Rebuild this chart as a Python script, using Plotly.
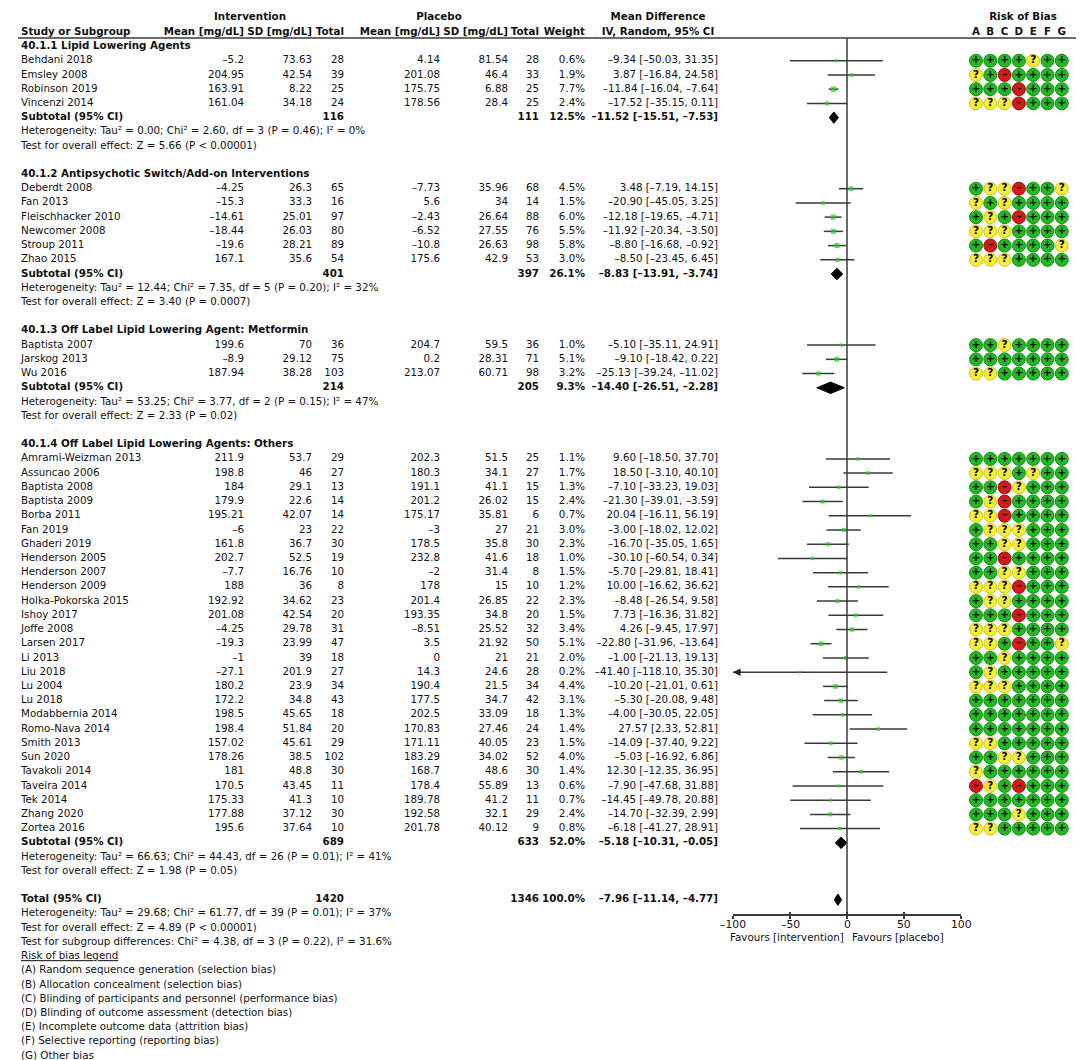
import plotly.graph_objects as go

# ---------------- data ----------------
group_titles = [
    "40.1.1 Lipid Lowering Agents",
    "40.1.2 Antipsychotic Switch/Add-on Interventions",
    "40.1.3 Off Label Lipid Lowering Agent: Metformin",
    "40.1.4 Off Label Lipid Lowering Agents: Others",
]
group_sizes = [4, 6, 3, 27]

studies = [
    "Behdani 2018", "Emsley 2008", "Robinson 2019", "Vincenzi 2014",
    "Deberdt 2008", "Fan 2013", "Fleischhacker 2010", "Newcomer 2008", "Stroup 2011", "Zhao 2015",
    "Baptista 2007", "Jarskog 2013", "Wu 2016",
    "Amrami-Weizman 2013", "Assuncao 2006", "Baptista 2008", "Baptista 2009", "Borba 2011",
    "Fan 2019", "Ghaderi 2019", "Henderson 2005", "Henderson 2007", "Henderson 2009",
    "Holka-Pokorska 2015", "Ishoy 2017", "Joffe 2008", "Larsen 2017", "Li 2013", "Liu 2018",
    "Lu 2004", "Lu 2018", "Modabbernia 2014", "Romo-Nava 2014", "Smith 2013", "Sun 2020",
    "Tavakoli 2014", "Taveira 2014", "Tek 2014", "Zhang 2020", "Zortea 2016",
]
int_mean = [-5.2, 204.95, 163.91, 161.04,
            -4.25, -15.3, -14.61, -18.44, -19.6, 167.1,
            199.6, -8.9, 187.94,
            211.9, 198.8, 184, 179.9, 195.21, -6, 161.8, 202.7, -7.7, 188,
            192.92, 201.08, -4.25, -19.3, -1, -27.1, 180.2, 172.2, 198.5, 198.4,
            157.02, 178.26, 181, 170.5, 175.33, 177.88, 195.6]
int_sd = [73.63, 42.54, 8.22, 34.18,
          26.3, 33.3, 25.01, 26.03, 28.21, 35.6,
          70, 29.12, 38.28,
          53.7, 46, 29.1, 22.6, 42.07, 23, 36.7, 52.5, 16.76, 36,
          34.62, 42.54, 29.78, 23.99, 39, 201.9, 23.9, 34.8, 45.65, 51.84,
          45.61, 38.5, 48.8, 43.45, 41.3, 37.12, 37.64]
int_n = [28, 39, 25, 24,
         65, 16, 97, 80, 89, 54,
         36, 75, 103,
         29, 27, 13, 14, 14, 22, 30, 19, 10, 8,
         23, 20, 31, 47, 18, 27, 34, 43, 18, 20,
         29, 102, 30, 11, 10, 30, 10]
pla_mean = [4.14, 201.08, 175.75, 178.56,
            -7.73, 5.6, -2.43, -6.52, -10.8, 175.6,
            204.7, 0.2, 213.07,
            202.3, 180.3, 191.1, 201.2, 175.17, -3, 178.5, 232.8, -2, 178,
            201.4, 193.35, -8.51, 3.5, 0, 14.3, 190.4, 177.5, 202.5, 170.83,
            171.11, 183.29, 168.7, 178.4, 189.78, 192.58, 201.78]
pla_sd = [81.54, 46.4, 6.88, 28.4,
          35.96, 34, 26.64, 27.55, 26.63, 42.9,
          59.5, 28.31, 60.71,
          51.5, 34.1, 41.1, 26.02, 35.81, 27, 35.8, 41.6, 31.4, 15,
          26.85, 34.8, 25.52, 21.92, 21, 24.6, 21.5, 34.7, 33.09, 27.46,
          40.05, 34.02, 48.6, 55.89, 41.2, 32.1, 40.12]
pla_n = [28, 33, 25, 25,
         68, 14, 88, 76, 98, 53,
         36, 71, 98,
         25, 27, 15, 15, 6, 21, 30, 18, 8, 10,
         22, 20, 32, 50, 21, 28, 34, 42, 18, 24,
         23, 52, 30, 13, 11, 29, 9]
weight = [0.6, 1.9, 7.7, 2.4,
          4.5, 1.5, 6.0, 5.5, 5.8, 3.0,
          1.0, 5.1, 3.2,
          1.1, 1.7, 1.3, 2.4, 0.7, 3.0, 2.3, 1.0, 1.5, 1.2,
          2.3, 1.5, 3.4, 5.1, 2.0, 0.2, 4.4, 3.1, 1.3, 1.4,
          1.5, 4.0, 1.4, 0.6, 0.7, 2.4, 0.8]
md = [-9.34, 3.87, -11.84, -17.52,
      3.48, -20.90, -12.18, -11.92, -8.80, -8.50,
      -5.10, -9.10, -25.13,
      9.60, 18.50, -7.10, -21.30, 20.04, -3.00, -16.70, -30.10, -5.70, 10.00,
      -8.48, 7.73, 4.26, -22.80, -1.00, -41.40, -10.20, -5.30, -4.00, 27.57,
      -14.09, -5.03, 12.30, -7.90, -14.45, -14.70, -6.18]
md_lo = [-50.03, -16.84, -16.04, -35.15,
         -7.19, -45.05, -19.65, -20.34, -16.68, -23.45,
         -35.11, -18.42, -39.24,
         -18.50, -3.10, -33.23, -39.01, -16.11, -18.02, -35.05, -60.54, -29.81, -16.62,
         -26.54, -16.36, -9.45, -31.96, -21.13, -118.10, -21.01, -20.08, -30.05, 2.33,
         -37.40, -16.92, -12.35, -47.68, -49.78, -32.39, -41.27]
md_hi = [31.35, 24.58, -7.64, 0.11,
         14.15, 3.25, -4.71, -3.50, -0.92, 6.45,
         24.91, 0.22, -11.02,
         37.70, 40.10, 19.03, -3.59, 56.19, 12.02, 1.65, 0.34, 18.41, 36.62,
         9.58, 31.82, 17.97, -13.64, 19.13, 35.30, 0.61, 9.48, 22.05, 52.81,
         9.22, 6.86, 36.95, 31.88, 20.88, 2.99, 28.91]
# risk of bias per study, domains A..G: + low, ? unclear, - high
rob = ["++++?++", "?+-++++", "+++-+++", "???-+++",
       "+??-++?", "?+?++++", "+?+-+++", "???++++", "+-++++?", "???++++",
       "++?++++", "+++++++", "??+++++",
       "+++++++", "???+?++", "++-?+++", "+?-++++", "??-++++", "+???+++", "++??+++",
       "++-++++", "++??+++", "???-+++", "+??++++", "+++-+++", "???++++", "??+-++?",
       "++?++++", "+?+++++", "???++++", "+++++++", "+++++++", "+++++++", "??+++++",
       "++??+++", "?++++++", "-?+-+++", "+++++++", "+++?+++", "??+++++"]

sub_int_n = [116, 401, 214, 689]
sub_pla_n = [111, 397, 205, 633]
sub_weight = [12.5, 26.1, 9.3, 52.0]
sub_md = [-11.52, -8.83, -14.40, -5.18]
sub_lo = [-15.51, -13.91, -26.51, -10.31]
sub_hi = [-7.53, -3.74, -2.28, -0.05]
sub_het = [
    "Heterogeneity: Tau² = 0.00; Chi² = 2.60, df = 3 (P = 0.46); I² = 0%",
    "Heterogeneity: Tau² = 12.44; Chi² = 7.35, df = 5 (P = 0.20); I² = 32%",
    "Heterogeneity: Tau² = 53.25; Chi² = 3.77, df = 2 (P = 0.15); I² = 47%",
    "Heterogeneity: Tau² = 66.63; Chi² = 44.43, df = 26 (P = 0.01); I² = 41%",
]
sub_test = [
    "Test for overall effect: Z = 5.66 (P < 0.00001)",
    "Test for overall effect: Z = 3.40 (P = 0.0007)",
    "Test for overall effect: Z = 2.33 (P = 0.02)",
    "Test for overall effect: Z = 1.98 (P = 0.05)",
]
total_int_n, total_pla_n, total_weight = 1420, 1346, 100.0
total_md, total_lo, total_hi = -7.96, -11.14, -4.77
total_notes = [
    "Heterogeneity: Tau² = 29.68; Chi² = 61.77, df = 39 (P = 0.01); I² = 37%",
    "Test for overall effect: Z = 4.89 (P < 0.00001)",
    "Test for subgroup differences: Chi² = 4.38, df = 3 (P = 0.22), I² = 31.6%",
]
legend_items = [
    "(A) Random sequence generation (selection bias)",
    "(B) Allocation concealment (selection bias)",
    "(C) Blinding of participants and personnel (performance bias)",
    "(D) Blinding of outcome assessment (detection bias)",
    "(E) Incomplete outcome data (attrition bias)",
    "(F) Selective reporting (reporting bias)",
    "(G) Other bias",
]
rob_domains = ["A", "B", "C", "D", "E", "F", "G"]
ticks = [-100, -50, 0, 50, 100]

# ---------------- layout constants (pixels) ----------------
W, H = 1084, 1060
ROW0, ROW_H = 38.5, 14.22           # pixel centre of row 0, row pitch
HEAD1, HEAD2 = -2.07, -1.02         # header rows (in row units)
FONT, FS, INK = "DejaVu Sans", 10.3, "#111111"
X_LABEL = 13
X_IM, X_IS, X_IN = 236, 304, 336
X_PM, X_PS, X_PN = 432, 500, 531
X_W, X_CI = 577, 710
C_INT, C_PLA, C_MDT, C_FOREST, C_ROB = 242, 431, 650, 839, 1015
ZERO_PX, PX_PER_UNIT = 839, 1.14
AXIS_PX, HEAD_LINE_PX, TICKLAB_PX, FAV_PX = 907, 30, 916.5, 929
ROB_X0, ROB_DX = 968, 14.3
ROB_STYLE = {"+": ("#22b922", "#148c14"), "?": ("#f6ee3a", "#cfc420"), "-": ("#d11a1a", "#961010")}
ROB_GLYPH = {"+": "+", "?": "?", "-": "–"}


def num(v, spec="g"):
    return format(v, spec).replace("-", "–")


def ci(m, lo, hi):
    return f"{num(m, '.2f')} [{num(lo, '.2f')}, {num(hi, '.2f')}]"


def b(s):
    return f"<b>{s}</b>"


texts = {}


def put(x, y, s, pos="middle left"):
    col = texts.setdefault((x, pos), ([], []))
    col[0].append(y)
    col[1].append(s)


# headers
put(C_INT, HEAD1, b("Intervention"), "middle center")
put(C_PLA, HEAD1, b("Placebo"), "middle center")
put(C_MDT, HEAD1, b("Mean Difference"), "middle center")
put(C_FOREST, HEAD1, b("Mean Difference"), "middle center")
put(C_ROB, HEAD1, b("Risk of Bias"), "middle center")
put(X_LABEL, HEAD2, b("Study or Subgroup"), "middle right")
for x, s in [(X_IM, "Mean [mg/dL]"), (X_IS, "SD [mg/dL]"), (X_IN, "Total"),
             (X_PM, "Mean [mg/dL]"), (X_PS, "SD [mg/dL]"), (X_PN, "Total"), (X_W, "Weight")]:
    put(x, HEAD2, b(s))
put(C_MDT, HEAD2, b("IV, Random, 95% CI"), "middle center")
put(C_FOREST, HEAD2, b("IV, Random, 95% CI"), "middle center")
for j, d in enumerate(rob_domains):
    put(ROB_X0 + j * ROB_DX, HEAD2, b(d), "middle center")

# body rows
study_rows, sub_rows = [], []
r, k = 0, 0
for g, n in enumerate(group_sizes):
    put(X_LABEL, r, b(group_titles[g]), "middle right")
    for i in range(k, k + n):
        y = r + 1 + (i - k)
        study_rows.append(y)
        put(X_LABEL, y, studies[i], "middle right")
        put(X_IM, y, num(int_mean[i]))
        put(X_IS, y, num(int_sd[i]))
        put(X_IN, y, str(int_n[i]))
        put(X_PM, y, num(pla_mean[i]))
        put(X_PS, y, num(pla_sd[i]))
        put(X_PN, y, str(pla_n[i]))
        put(X_W, y, f"{weight[i]:.1f}%")
        put(X_CI, y, ci(md[i], md_lo[i], md_hi[i]))
    ys = r + n + 1
    sub_rows.append(ys)
    put(X_LABEL, ys, b("Subtotal (95% CI)"), "middle right")
    put(X_IN, ys, b(sub_int_n[g]))
    put(X_PN, ys, b(sub_pla_n[g]))
    put(X_W, ys, b(f"{sub_weight[g]:.1f}%"))
    put(X_CI, ys, b(ci(sub_md[g], sub_lo[g], sub_hi[g])))
    put(X_LABEL, ys + 1, sub_het[g], "middle right")
    put(X_LABEL, ys + 2, sub_test[g], "middle right")
    k += n
    r += n + 5

total_row = r
put(X_LABEL, total_row, b("Total (95% CI)"), "middle right")
put(X_IN, total_row, b(total_int_n))
put(X_PN, total_row, b(total_pla_n))
put(X_W, total_row, b(f"{total_weight:.1f}%"))
put(X_CI, total_row, b(ci(total_md, total_lo, total_hi)))
for j, s in enumerate(total_notes):
    put(X_LABEL, total_row + 1 + j, s, "middle right")
leg_row = total_row + 1 + len(total_notes)
put(X_LABEL, leg_row, "<span style='text-decoration:underline'>Risk of bias legend</span>", "middle right")
for j, s in enumerate(legend_items):
    put(X_LABEL, leg_row + 1 + j, s, "middle right")

fig = go.Figure()
for (x, pos), (ys, ss) in texts.items():
    fig.add_trace(go.Scatter(
        x=[x] * len(ys), y=ys, text=ss, mode="text", textposition=pos,
        textfont=dict(family=FONT, size=FS, color=INK),
        hoverinfo="skip", showlegend=False, cliponaxis=False))

# confidence intervals
lx, ly = [], []
for i, y in enumerate(study_rows):
    lx += [md_lo[i], md_hi[i], None]
    ly += [y, y, None]
fig.add_trace(go.Scatter(x=lx, y=ly, mode="lines", line=dict(color="#3a3a3a", width=1.5),
                         xaxis="x2", yaxis="y", hoverinfo="skip", showlegend=False))
# study squares sized by weight
fig.add_trace(go.Scatter(
    x=md, y=study_rows, mode="markers", xaxis="x2", yaxis="y",
    marker=dict(symbol="square", size=[2.2 + 1.2 * w ** 0.5 for w in weight], color="#1fd01f", line=dict(width=0)),
    hoverinfo="skip", showlegend=False))
# pooled diamonds
half = 0.4
for m, lo, hi, y in list(zip(sub_md, sub_lo, sub_hi, sub_rows)) + [(total_md, total_lo, total_hi, total_row)]:
    fig.add_trace(go.Scatter(
        x=[lo, m, hi, m, lo], y=[y, y - half, y, y + half, y], mode="lines", fill="toself",
        fillcolor="#000000", line=dict(color="#000000", width=1), xaxis="x2", yaxis="y",
        hoverinfo="skip", showlegend=False))
# arrow for CIs running past the axis
for i, y in enumerate(study_rows):
    if md_lo[i] < ticks[0]:
        fig.add_annotation(x=ticks[0], y=y, xref="x2", yref="y", ax=9, ay=0, text="",
                           showarrow=True, arrowhead=2, arrowsize=1, arrowwidth=1.5, arrowcolor="#222222")

# risk of bias dots
for code, (fill, edge) in ROB_STYLE.items():
    bx, by = [], []
    for i, y in enumerate(study_rows):
        for j, c in enumerate(rob[i]):
            if c == code:
                bx.append(ROB_X0 + j * ROB_DX)
                by.append(y)
    fig.add_trace(go.Scatter(
        x=bx, y=by, mode="markers+text", text=[b(ROB_GLYPH[code])] * len(bx), textposition="middle center",
        textfont=dict(family=FONT, size=10.5, color="#000000"),
        marker=dict(symbol="circle", size=13, color=fill, line=dict(color=edge, width=1)),
        hoverinfo="skip", showlegend=False, cliponaxis=False))

# dummy trace so the inner-tick overlay axis is drawn
fig.add_trace(go.Scatter(x=[0], y=[total_row], mode="markers", marker=dict(opacity=0),
                         xaxis="x3", yaxis="y", hoverinfo="skip", showlegend=False))

axis_pos = 1 - AXIS_PX / H
x2_domain = [(ZERO_PX - 100 * PX_PER_UNIT) / W, (ZERO_PX + 100 * PX_PER_UNIT) / W]
fig.add_shape(type="line", xref="x2", yref="paper", x0=0, x1=0,
              y0=axis_pos, y1=1 - HEAD_LINE_PX / H, line=dict(color="#3a3a3a", width=1.5))
fig.add_shape(type="line", xref="paper", yref="paper", x0=10 / W, x1=1,
              y0=1 - HEAD_LINE_PX / H, y1=1 - HEAD_LINE_PX / H, line=dict(color="#3a3a3a", width=1.5))
for t in ticks:
    fig.add_annotation(x=t, y=1 - TICKLAB_PX / H, xref="x2", yref="paper", text=num(t),
                       showarrow=False, xanchor="center", yanchor="middle",
                       font=dict(family=FONT, size=10.8, color=INK))
fig.add_annotation(x=0, y=1 - FAV_PX / H, xref="x2", yref="paper", text="Favours [intervention]",
                   showarrow=False, xanchor="right", yanchor="middle", xshift=-1,
                   font=dict(family=FONT, size=FS, color=INK))
fig.add_annotation(x=0, y=1 - FAV_PX / H, xref="x2", yref="paper", text="Favours [placebo]",
                   showarrow=False, xanchor="left", yanchor="middle", xshift=3,
                   font=dict(family=FONT, size=FS, color=INK))

fig.update_layout(
    width=W, height=H, autosize=False, margin=dict(l=0, r=0, t=0, b=0),
    paper_bgcolor="white", plot_bgcolor="white", showlegend=False,
    xaxis=dict(domain=[0, 1], range=[0, W], visible=False),
    yaxis=dict(domain=[0, 1], range=[(H - ROW0) / ROW_H, -ROW0 / ROW_H], visible=False),
    xaxis2=dict(domain=x2_domain, range=[ticks[0], ticks[-1]], anchor="free", position=axis_pos,
                showline=True, linecolor="#3a3a3a", linewidth=1.5, ticks="outside", ticklen=3,
                tickwidth=1.5, tickcolor="#3a3a3a", tickvals=ticks, showticklabels=False,
                showgrid=False, zeroline=False),
    xaxis3=dict(domain=x2_domain, range=[ticks[0], ticks[-1]], overlaying="x2", anchor="free",
                position=axis_pos, showline=False, ticks="inside", ticklen=3, tickwidth=1.5,
                tickcolor="#3a3a3a", tickvals=ticks, showticklabels=False, showgrid=False, zeroline=False),
)

fig.write_html("out.html")
